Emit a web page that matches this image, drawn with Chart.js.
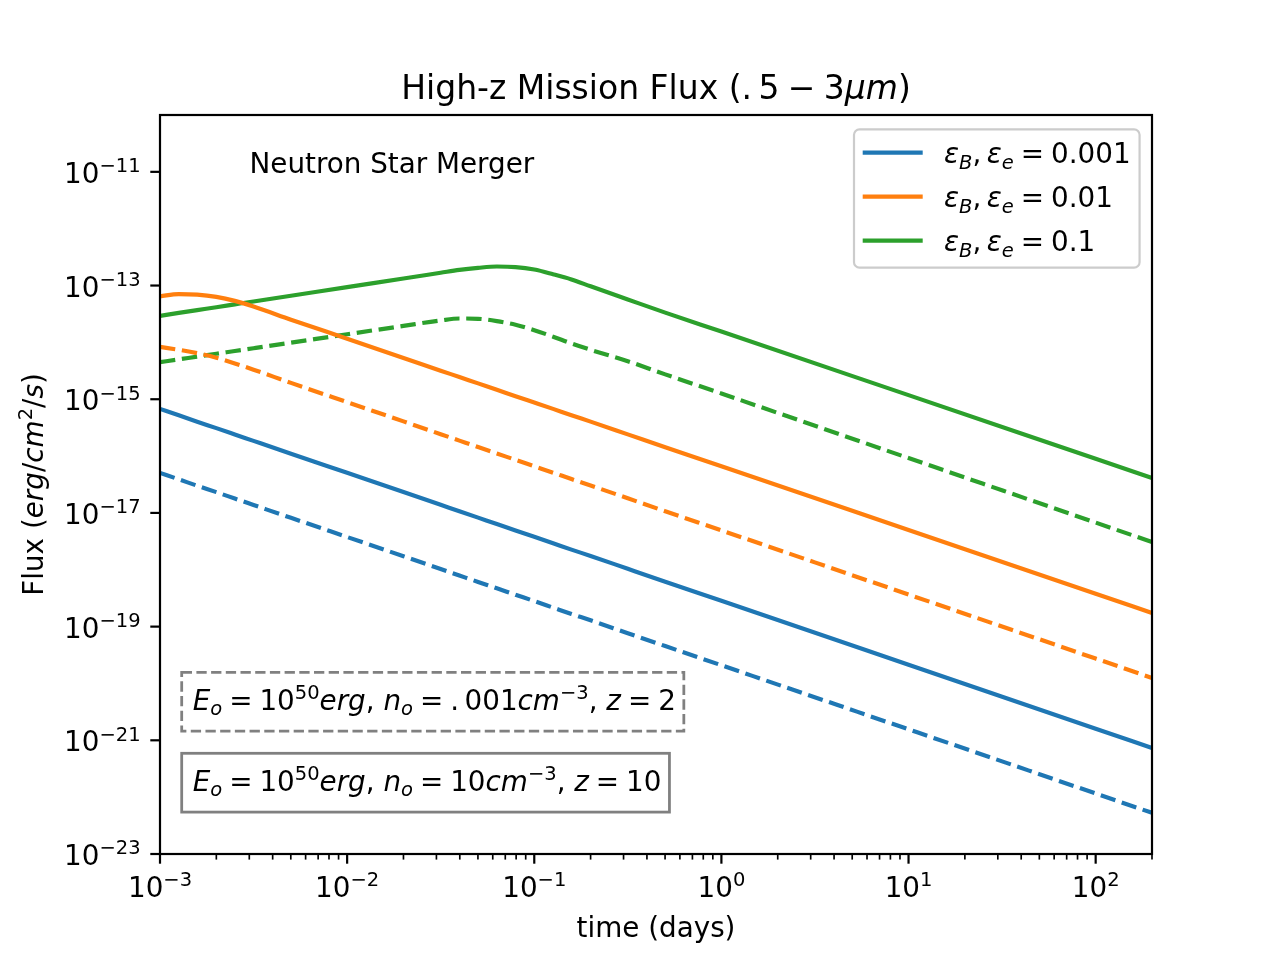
<!DOCTYPE html>
<html>
<head>
<meta charset="utf-8">
<title>High-z Mission Flux</title>
<script src="https://cdn.jsdelivr.net/npm/chart.js@4.4.1/dist/chart.umd.min.js"></script>
<style>
  html, body { margin: 0; padding: 0; background: #fff; }
  canvas { display: block; }
</style>
</head>
<body>
<canvas id="fluxChart" width="1280" height="960"></canvas>
<script>
// time grid (days), shared by every curve
const days = [0.001, 0.00126, 0.00158, 0.002, 0.00251, 0.00316, 0.00501, 0.01, 0.02, 0.0316,
              0.0398, 0.0501, 0.0631, 0.0794, 0.1, 0.126, 0.158, 0.2, 0.316, 0.501, 1, 10, 100, 200];

// flux in erg/cm^2/s, solid = (n_o = 10, z = 10), dashed = (n_o = .001, z = 2)
const eps001Solid  = [6.76e-16, 5.21e-16, 4.03e-16, 3.10e-16, 2.40e-16, 1.85e-16, 1.10e-16, 5.07e-17, 2.33e-17, 1.39e-17,
                      1.07e-17, 8.26e-18, 6.38e-18, 4.92e-18, 3.80e-18, 2.93e-18, 2.26e-18, 1.75e-18, 1.04e-18, 6.17e-19, 2.85e-19, 2.14e-20, 1.60e-21, 7.35e-22];
const eps001Dashed = [5.06e-17, 3.90e-17, 3.01e-17, 2.32e-17, 1.79e-17, 1.38e-17, 8.20e-18, 3.77e-18, 1.73e-18, 1.03e-18,
                      7.93e-19, 6.11e-19, 4.72e-19, 3.64e-19, 2.81e-19, 2.16e-19, 1.67e-19, 1.29e-19, 7.66e-20, 4.55e-20, 2.09e-20, 1.56e-21, 1.16e-22, 5.30e-23];
const eps01Solid   = [6.46e-14, 7.08e-14, 6.92e-14, 6.31e-14, 5.37e-14, 4.27e-14, 2.51e-14, 1.16e-14, 5.33e-15, 3.18e-15,
                      2.46e-15, 1.90e-15, 1.47e-15, 1.13e-15, 8.75e-16, 6.76e-16, 5.22e-16, 4.04e-16, 2.41e-16, 1.43e-16, 6.62e-17, 5.01e-18, 3.79e-19, 1.74e-19];
const eps01Dashed  = [8.32e-15, 7.41e-15, 6.46e-15, 5.37e-15, 4.27e-15, 3.31e-15, 1.94e-15, 8.89e-16, 4.08e-16, 2.43e-16,
                      1.87e-16, 1.44e-16, 1.11e-16, 8.59e-17, 6.62e-17, 5.11e-17, 3.94e-17, 3.04e-17, 1.81e-17, 1.07e-17, 4.93e-18, 3.67e-19, 2.74e-20, 1.25e-20];
const eps1Solid    = [2.93e-14, 3.30e-14, 3.70e-14, 4.16e-14, 4.67e-14, 5.25e-14, 6.62e-14, 9.40e-14, 1.33e-13, 1.68e-13,
                      1.89e-13, 2.05e-13, 2.16e-13, 2.11e-13, 1.91e-13, 1.58e-13, 1.28e-13, 9.70e-14, 5.70e-14, 3.34e-14, 1.55e-14, 1.18e-15, 8.97e-17, 4.13e-17];
const eps1Dashed   = [4.49e-15, 5.02e-15, 5.62e-15, 6.30e-15, 7.05e-15, 7.89e-15, 9.89e-15, 1.39e-14, 1.95e-14, 2.43e-14,
                      2.63e-14, 2.60e-14, 2.37e-14, 2.04e-14, 1.64e-14, 1.26e-14, 9.60e-15, 7.41e-15, 4.66e-15, 2.74e-15, 1.26e-15, 9.23e-17, 6.76e-18, 3.08e-18];

const legendValues = ['0.001', '0.01', '0.1'];
const xTickExp = [-3, -2, -1, 0, 1, 2];
const yTickExp = [-23, -21, -19, -17, -15, -13, -11];

const BLUE = '#1f77b4', ORANGE = '#ff7f0e', GREEN = '#2ca02c';
const FONT = '"DejaVu Sans"';
const FS = 27.8;      // 10pt at 200 dpi
const LW = 4.17;      // 1.5pt

const series = [
  { values: eps001Solid,  color: BLUE,   dashed: false },
  { values: eps001Dashed, color: BLUE,   dashed: true },
  { values: eps01Solid,   color: ORANGE, dashed: false },
  { values: eps01Dashed,  color: ORANGE, dashed: true },
  { values: eps1Solid,    color: GREEN,  dashed: false },
  { values: eps1Dashed,   color: GREEN,  dashed: true }
];

// 简单的 mathtext: [text, flags]  flags: i = italic, ^ = sup, _ = sub
function partFont(f, size) {
  const s = (f.includes('^') || f.includes('_')) ? size * 0.7 : size;
  return (f.includes('i') ? 'italic ' : '') + s.toFixed(1) + 'px ' + FONT;
}

function richWidth(ctx, parts, size) {
  let w = 0;
  parts.forEach(([t, f]) => { ctx.font = partFont(f, size); w += ctx.measureText(t).width; });
  return w;
}

function drawRich(ctx, parts, x, y, size, align) {
  const w = richWidth(ctx, parts, size);
  let cx = align === 'center' ? x - w / 2 : align === 'right' ? x - w : x;
  ctx.textAlign = 'left';
  ctx.textBaseline = 'alphabetic';
  parts.forEach(([t, f]) => {
    ctx.font = partFont(f, size);
    const dy = f.includes('^') ? -0.385 * size : f.includes('_') ? 0.2 * size : 0;
    ctx.fillText(t, cx, y + dy);
    cx += ctx.measureText(t).width;
  });
  return w;
}

function expText(e) {
  return e < 0 ? '\u2212' + (-e) : String(e);
}

function seg(ctx, x1, y1, x2, y2, w) {
  ctx.lineWidth = w;
  ctx.beginPath();
  ctx.moveTo(x1, y1);
  ctx.lineTo(x2, y2);
  ctx.stroke();
}

const EQ = '\u2005=\u2005';
const boxLow  = [['E', 'i'], ['o', 'i_'], [EQ, ''], ['10', ''], ['50', '^'], ['erg', 'i'], [', ', ''],
                 ['n', 'i'], ['o', 'i_'], [EQ, ''], ['.\u2009001', ''], ['cm', 'i'], ['\u22123', '^'], [', ', ''],
                 ['z', 'i'], [EQ, ''], ['2', '']];
const boxHigh = [['E', 'i'], ['o', 'i_'], [EQ, ''], ['10', ''], ['50', '^'], ['erg', 'i'], [', ', ''],
                 ['n', 'i'], ['o', 'i_'], [EQ, ''], ['10', ''], ['cm', 'i'], ['\u22123', '^'], [', ', ''],
                 ['z', 'i'], [EQ, ''], ['10', '']];

const decor = {
  id: 'decor',
  afterDraw(chart) {
    const { ctx, chartArea: a, scales } = chart;
    const xs = scales.x, ys = scales.y;
    ctx.save();
    ctx.fillStyle = '#000';
    ctx.strokeStyle = '#000';
    ctx.lineCap = 'butt';

    // x 轴刻度
    xTickExp.forEach(e => {
      const px = xs.getPixelForValue(Math.pow(10, e));
      seg(ctx, px, a.bottom, px, a.bottom + 9.7, 2.2);
      drawRich(ctx, [['10', ''], [expText(e), '^']], px, 896.7, FS, 'center');
      for (let m = 2; m <= 9; m++) {
        const v = m * Math.pow(10, e);
        if (v > xs.max * 1.0001) break;
        const mx = xs.getPixelForValue(v);
        seg(ctx, mx, a.bottom, mx, a.bottom + 5.6, 1.67);
      }
    });

    // y 轴刻度
    yTickExp.forEach(e => {
      const py = ys.getPixelForValue(Math.pow(10, e));
      seg(ctx, a.left - 9.7, py, a.left, py, 2.2);
      drawRich(ctx, [['10', ''], [expText(e), '^']], a.left - 19.4, py + 11, FS, 'right');
    });

    // spines
    ctx.lineWidth = 2.2;
    ctx.lineJoin = 'miter';
    ctx.strokeRect(a.left, a.top, a.right - a.left, a.bottom - a.top);

    // title + axis labels
    const cx = (a.left + a.right) / 2;
    drawRich(ctx, [['High-z Mission Flux (', ''], ['.\u20095', ''], ['\u2005\u2212\u2005', ''], ['3', ''], ['\u03bcm', 'i'], [')', '']],
             cx, 98.5, 33, 'center');
    drawRich(ctx, [['time (days)', '']], cx, 937, FS, 'center');
    ctx.save();
    ctx.translate(42.5, (a.top + a.bottom) / 2);
    ctx.rotate(-Math.PI / 2);
    drawRich(ctx, [['Flux (', ''], ['erg', 'i'], ['/', ''], ['cm', 'i'], ['2', '^'], ['/', ''], ['s', 'i'], [')', '']],
             0, 0, FS, 'center');
    ctx.restore();

    // annotation
    drawRich(ctx, [['Neutron Star Merger', '']], 249.5, 172.5, FS, 'left');

    // parameter boxes
    [[boxLow, 672.3, true], [boxHigh, 753.3, false]].forEach(([parts, top, dashed]) => {
      const w = richWidth(ctx, parts, FS);
      const left = 181.7, h = 58.8;
      ctx.fillStyle = '#fff';
      ctx.fillRect(left, top, w + 19, h);
      ctx.strokeStyle = '#808080';
      ctx.lineWidth = 2.78;
      ctx.setLineDash(dashed ? [10.3, 4.4] : []);
      ctx.strokeRect(left, top, w + 19, h);
      ctx.setLineDash([]);
      ctx.fillStyle = '#000';
      drawRich(ctx, parts, left + 11, top + h / 2 + 8, FS, 'left');
    });

    // legend
    const rows = legendValues.map((v, i) => ({
      parts: [['\u03b5', 'i'], ['B', 'i_'], [',\u2009', ''], ['\u03b5', 'i'], ['e', 'i_'], [EQ + v, '']],
      color: series[i * 2].color,
      y: 152.7 + i * 44
    }));
    let maxW = 0;
    rows.forEach(r => { maxW = Math.max(maxW, richWidth(ctx, r.parts, FS)); });
    const bx = 854, by = 129.3, bw = 944 - bx + maxW + 9, bh = 138.4;
    ctx.beginPath();
    ctx.roundRect(bx, by, bw, bh, 5.5);
    ctx.fillStyle = 'rgba(255,255,255,0.8)';
    ctx.fill();
    ctx.strokeStyle = '#cccccc';
    ctx.lineWidth = 2.2;
    ctx.stroke();
    rows.forEach(r => {
      ctx.strokeStyle = r.color;
      seg(ctx, 862.7, r.y, 922.7, r.y, LW);
      ctx.fillStyle = '#000';
      drawRich(ctx, r.parts, 944, r.y + 10.5, FS, 'left');
    });

    ctx.restore();
  }
};

new Chart(document.getElementById('fluxChart'), {
  type: 'line',
  data: {
    datasets: series.map(s => ({
      data: days.map((d, i) => ({ x: d, y: s.values[i] })),
      borderColor: s.color,
      borderWidth: LW,
      borderDash: s.dashed ? [15.4, 6.7] : [],
      borderCapStyle: s.dashed ? 'butt' : 'round',
      borderJoinStyle: 'round',
      cubicInterpolationMode: 'monotone',
      pointRadius: 0,
      fill: false
    }))
  },
  options: {
    responsive: false,
    devicePixelRatio: 1,
    animation: false,
    events: [],
    layout: { padding: { left: 0, top: 115, right: 128, bottom: 0 } },
    plugins: { legend: { display: false }, title: { display: false }, tooltip: { enabled: false } },
    scales: {
      x: {
        type: 'logarithmic', min: 0.001, max: 200, bounds: 'data',
        ticks: { display: false }, grid: { display: false }, border: { display: false },
        afterFit: s => { s.height = 106; }
      },
      y: {
        type: 'logarithmic', min: 1e-23, max: 1e-10, bounds: 'data',
        ticks: { display: false }, grid: { display: false }, border: { display: false },
        afterFit: s => { s.width = 160; }
      }
    }
  },
  plugins: [decor]
});
</script>
</body>
</html>
